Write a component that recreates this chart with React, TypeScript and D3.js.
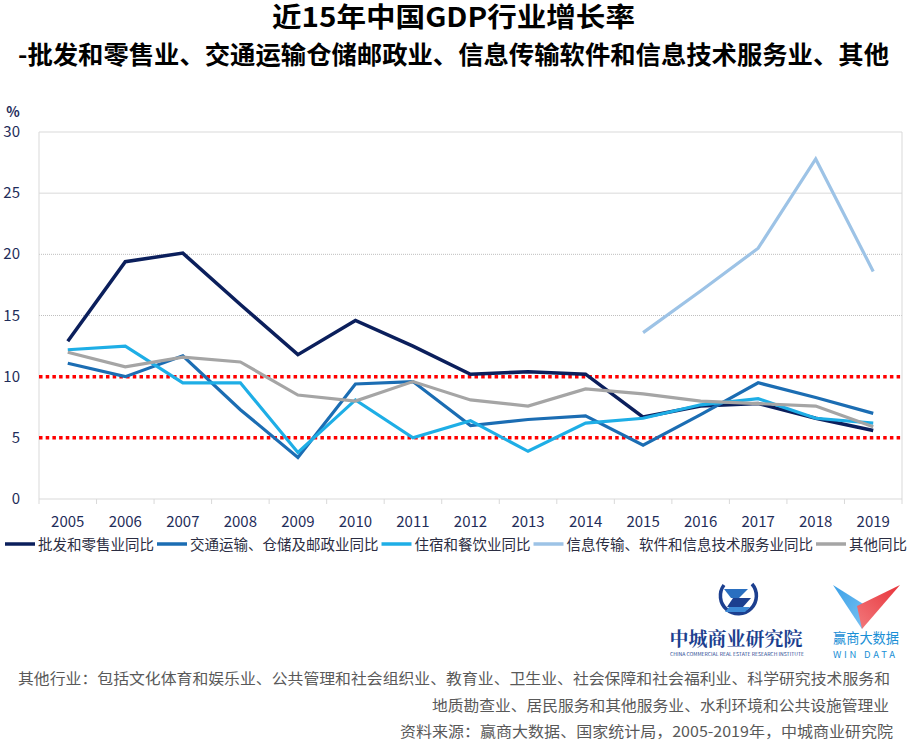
import React from "react";
import * as d3 from "d3";

const years = ["2005","2006","2007","2008","2009","2010","2011","2012","2013","2014","2015","2016","2017","2018","2019"];
const wholesale = [12.9,19.4,20.1,15.9,11.8,14.6,12.5,10.2,10.4,10.2,6.7,7.6,7.8,6.6,5.6];
const transport = [11.1,10.0,11.7,7.3,3.4,9.4,9.6,6.0,6.5,6.8,4.4,6.9,9.5,8.3,7.0];
const hotel = [12.2,12.5,9.5,9.5,3.8,8.1,5.0,6.4,3.9,6.2,6.6,7.7,8.2,6.6,6.2];
const infoTech: (number | null)[] = [null,null,null,null,null,null,null,null,null,null,13.6,17.0,20.5,27.8,18.6];
const others = [12.0,10.8,11.6,11.2,8.5,8.0,9.6,8.1,7.6,9.0,8.6,8.0,7.8,7.6,5.9];
const yTicks = [0,5,10,15,20,25,30];
const refLines = [10,5];

const seriesNames = ["批发和零售业同比","交通运输、仓储及邮政业同比","住宿和餐饮业同比","信息传输、软件和信息技术服务业同比","其他同比"];
const seriesColors = ["#0b1f5c","#1b6db3","#1eaee6","#9dc3e6","#a5a5a5"];
const seriesData = [wholesale, transport, hotel, infoTech, others];

const titleLine1 = "近15年中国GDP行业增长率";
const titleLine2 = "-批发和零售业、交通运输仓储邮政业、信息传输软件和信息技术服务业、其他";
const footer1 = "其他行业：包括文化体育和娱乐业、公共管理和社会组织业、教育业、卫生业、社会保障和社会福利业、科学研究技术服务和";
const footer2 = "地质勘查业、居民服务和其他服务业、水利环境和公共设施管理业";
const footer3 = "资料来源：赢商大数据、国家统计局，2005-2019年，中城商业研究院";

const W = 908, H = 740;
const FONT = "'Noto Sans CJK SC', 'Noto Sans', sans-serif";

export default function App() {
  const x = d3.scaleBand().domain(years).range([39, 902]).padding(0);
  const y = d3.scaleLinear().domain([0, 30]).range([499, 132]);
  const cx = (yr: string) => (x(yr) as number) + x.bandwidth() / 2;
  const line = d3.line<number | null>()
    .defined((d) => d !== null)
    .x((_, i) => cx(years[i]))
    .y((d) => y(d as number));

  const axisColor = "#1f2d5a";
  const legendFont = 14.5;
  let lx = 5;
  const legendItems = seriesNames.map((name, i) => {
    const item = { name, color: seriesColors[i], x: lx };
    lx += 30 + 3 + name.length * legendFont + 3;
    return item;
  });

  return (
    <svg width={W} height={H} style={{ display: "block", position: "absolute", left: 0, top: 0, background: "#fff" }} fontFamily={FONT}>
      <rect x={0} y={0} width={W} height={H} fill="#fff" />
      {/* titles */}
      <text x={453.5} y={27} fontSize={27} fontWeight="bold" textAnchor="middle" textLength={363} lengthAdjust="spacingAndGlyphs" fill="#000">{titleLine1}</text>
      <text x={18} y={63.5} fontSize={25} fontWeight="bold" textLength={871} lengthAdjust="spacingAndGlyphs" fill="#000">{titleLine2}</text>

      {/* gridlines */}
      {yTicks.filter((t) => t > 10 && t < 30).map((t) => (
        <line key={"g" + t} x1={39} x2={902} y1={y(t)} y2={y(t)} stroke={t === 25 ? "#d9d9d9" : "#bfbfbf"} strokeWidth={1} strokeDasharray={t === 25 ? undefined : "1,1"} />
      ))}
      {/* plot border */}
      <line x1={39} x2={902} y1={y(30)} y2={y(30)} stroke="#d9d9d9" strokeWidth={1} />
      <line x1={902} x2={902} y1={y(30)} y2={y(0)} stroke="#d9d9d9" strokeWidth={1} />
      <line x1={39} x2={39} y1={y(30)} y2={y(0)} stroke="#d9d9d9" strokeWidth={1} />
      <line x1={39} x2={902} y1={y(0)} y2={y(0)} stroke="#d9d9d9" strokeWidth={1} />
      {years.map((yr) => (
        <line key={"t" + yr} x1={x(yr) as number} x2={x(yr) as number} y1={y(0)} y2={y(0) + 5} stroke="#d9d9d9" strokeWidth={1} />
      ))}
      <line x1={902} x2={902} y1={y(0)} y2={y(0) + 5} stroke="#d9d9d9" strokeWidth={1} />

      {/* y labels */}
      {yTicks.map((t) => (
        <text key={"yl" + t} x={20} y={y(t) + 5} fontSize={15} textAnchor="end" fill={axisColor}>{t}</text>
      ))}
      <text x={13} y={117} fontSize={14} textAnchor="middle" fill={axisColor} fontWeight="bold">%</text>

      {/* x labels */}
      {years.map((yr) => (
        <text key={"xl" + yr} x={cx(yr)} y={527} fontSize={15} textAnchor="middle" fill={axisColor}>{yr}</text>
      ))}

      {/* red reference lines */}
      {refLines.map((r) => (
        <line key={"r" + r} x1={39} x2={902} y1={y(r)} y2={y(r)} stroke="#ff0000" strokeWidth={3.5} strokeDasharray="3.5,3.2" />
      ))}

      {/* series */}
      {seriesData.map((d, i) => (
        <path key={"s" + i} d={line(d as (number | null)[]) || ""} fill="none" stroke={seriesColors[i]} strokeWidth={i === 0 ? 3.5 : 3.2} strokeLinejoin="miter" />
      ))}

      {/* legend */}
      {legendItems.map((it, i) => (
        <g key={"lg" + i}>
          <line x1={it.x} x2={it.x + 30} y1={544} y2={544} stroke={it.color} strokeWidth={3.5} />
          <text x={it.x + 33} y={549.5} fontSize={legendFont} fill="#2b2d42">{it.name}</text>
        </g>
      ))}

      {/* 中城 logo */}
      <g>
        <path d="M 752 584 A 18 18 0 1 1 724 585" fill="none" stroke="#1c3f8f" strokeWidth={3.5} />
        <path d="M 724 589 L 748 589 L 739 598 L 731 598 Z" fill="#2a6fc0" />
        <path d="M 733 598 L 751 598 L 743 607 L 727 607 Z" fill="#1c3f8f" />
        <path d="M 729 607 L 750 607 L 745 612 L 725 612 Z" fill="#3d8ad6" />
        <text x={736} y={646} fontSize={19.5} textAnchor="middle" fontFamily="'Noto Serif CJK SC', 'Noto Sans CJK SC', serif" fontWeight="bold" fill="#1c3f8f" textLength={133} lengthAdjust="spacingAndGlyphs">中城商业研究院</text>
        <text x={737} y={656} fontSize={4.6} textAnchor="middle" fill="#1c3f8f" textLength={134} lengthAdjust="spacingAndGlyphs">CHINA COMMERCIAL REAL ESTATE RESEARCH INSTITUTE</text>
      </g>

      {/* Win data logo */}
      <defs>
        <linearGradient id="gBlue" x1="0" y1="0" x2="1" y2="1">
          <stop offset="0" stopColor="#3aa0e8" />
          <stop offset="1" stopColor="#7cc4f2" />
        </linearGradient>
        <linearGradient id="gRed" x1="1" y1="0" x2="0" y2="1">
          <stop offset="0" stopColor="#e8333a" />
          <stop offset="1" stopColor="#f27a7d" />
        </linearGradient>
      </defs>
      <polygon points="833,585 868,607 862,629" fill="url(#gBlue)" />
      <polygon points="900,585 857,606 862,629" fill="url(#gRed)" />
      <text x={866} y={643} fontSize={14} textAnchor="middle" fill="#1a8fd6" textLength={66} lengthAdjust="spacingAndGlyphs">赢商大数据</text>
      <text x={866} y={658} fontSize={9.5} textAnchor="middle" fill="#1a8fd6" letterSpacing={4} textLength={66} lengthAdjust="spacing">WIN DATA</text>

      {/* footer */}
      <text x={18} y={684} fontSize={15} fill="#595959" textLength={872} lengthAdjust="spacingAndGlyphs">{footer1}</text>
      <text x={889} y={711} fontSize={15} fill="#595959" textAnchor="end" textLength={457} lengthAdjust="spacingAndGlyphs">{footer2}</text>
      <text x={893} y={737} fontSize={15} fill="#595959" textAnchor="end" textLength={493} lengthAdjust="spacingAndGlyphs">{footer3}</text>
    </svg>
  );
}
